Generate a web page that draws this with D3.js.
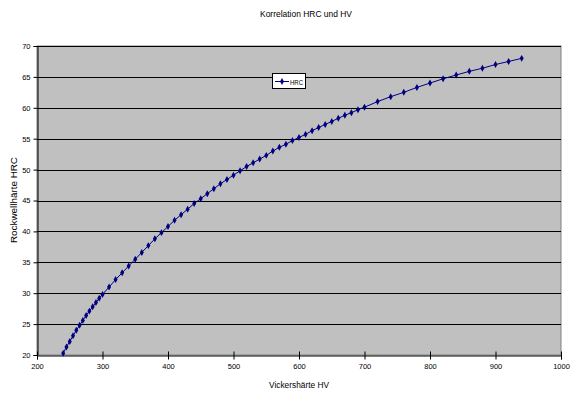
<!DOCTYPE html>
<html><head><meta charset="utf-8">
<script src="https://cdn.jsdelivr.net/npm/d3@7"></script>
<style>
body{margin:0;background:#fff;}
text{font-family:"Liberation Sans Narrow","Arial Narrow","Liberation Sans",Arial,sans-serif;fill:#000;}
</style></head>
<body><svg id="c" width="576" height="396"></svg>
<script>
const hv = [240,245,250,255,260,265,270,275,280,285,290,295,300,310,320,330,340,350,360,370,380,390,400,410,420,430,440,450,460,470,480,490,500,510,520,530,540,550,560,570,580,590,600,610,620,630,640,650,660,670,680,690,700,720,740,760,780,800,820,840,860,880,900,920,940];
const hrc = [20.3,21.3,22.2,23.1,24.0,24.8,25.6,26.4,27.1,27.8,28.5,29.2,29.8,31.0,32.2,33.3,34.4,35.5,36.6,37.7,38.8,39.8,40.8,41.8,42.7,43.6,44.5,45.3,46.1,46.9,47.7,48.4,49.1,49.8,50.5,51.1,51.7,52.3,53.0,53.6,54.1,54.7,55.2,55.7,56.3,56.8,57.3,57.8,58.3,58.8,59.2,59.7,60.1,61.0,61.8,62.5,63.3,64.0,64.7,65.3,65.9,66.4,67.0,67.5,68.0];
const xTicks = [200,300,400,500,600,700,800,900,1000];
const yTicks = [20,25,30,35,40,45,50,55,60,65,70];
const seriesName = "HRC";
const title = "Korrelation HRC und HV";
const xTitle = "Vickershärte HV";
const yTitle = "Rockwellhärte HRC";

const svg = d3.select("#c");
const L=37,R=561,T=46,B=355;
const x = d3.scaleLinear().domain([200,1000]).range([L,R]);
const y = d3.scaleLinear().domain([20,70]).range([B,T]);

svg.append("rect").attr("x",L).attr("y",T).attr("width",R-L).attr("height",B-T)
  .attr("fill","#c0c0c0").attr("stroke","#808080").attr("stroke-width",1);

svg.append("g").selectAll("line").data(yTicks.filter(d=>d>20)).join("line")
  .attr("x1",L).attr("x2",R).attr("y1",d=>Math.round(y(d))+0.5).attr("y2",d=>Math.round(y(d))+0.5)
  .attr("stroke","#000").attr("stroke-width",1);

const ya = svg.append("g").attr("transform",`translate(${L+0.5},0)`)
  .call(d3.axisLeft(y).tickValues(yTicks).tickSize(4).tickPadding(3).tickFormat(d3.format("d")));
const xa = svg.append("g").attr("transform",`translate(0,${B+0.5})`)
  .call(d3.axisBottom(x).tickValues(xTicks).tickSize(4).tickPadding(4).tickFormat(d3.format("d")));
[ya,xa].forEach(g=>{
  g.select(".domain").attr("stroke","#000");
  g.selectAll(".tick line").attr("stroke","#000");
  g.selectAll("text").attr("font-size","7.5px").attr("fill","#000")
   .attr("font-family",'"Liberation Sans Narrow","Arial Narrow","Liberation Sans",Arial,sans-serif');
});
ya.selectAll(".tick line").attr("x1",0).attr("x2",-4);
xa.selectAll(".tick line").attr("y1",-4).attr("y2",4);

const pts = hv.map((v,i)=>[v,hrc[i]]);
svg.append("path").datum(pts)
  .attr("d",d3.line().x(d=>x(d[0])).y(d=>y(d[1])))
  .attr("fill","none").attr("stroke","#000080").attr("stroke-width",1);
const diamond = d3.symbol().type(d3.symbolDiamond).size(14);
svg.append("g").selectAll("path").data(pts).join("path")
  .attr("transform",d=>`translate(${x(d[0])},${y(d[1])})`)
  .attr("d",diamond).attr("fill","#000080");

const lg = svg.append("g").attr("transform","translate(272,73)");
lg.append("rect").attr("x",0.5).attr("y",0.5).attr("width",33).attr("height",15)
  .attr("fill","#fff").attr("stroke","#000");
lg.append("line").attr("x1",3).attr("x2",17).attr("y1",8.5).attr("y2",8.5).attr("stroke","#000080");
lg.append("path").attr("transform","translate(10,8.5)").attr("d",diamond).attr("fill","#000080");
lg.append("text").attr("x",18).attr("y",11.5).attr("font-size","8px")
  .attr("textLength",13).attr("lengthAdjust","spacingAndGlyphs").text(seriesName);

svg.append("text").attr("x",306).attr("y",17).attr("text-anchor","middle").attr("font-size","9px")
  .attr("textLength",92).attr("lengthAdjust","spacingAndGlyphs").text(title);
svg.append("text").attr("x",299).attr("y",388).attr("text-anchor","middle").attr("font-size","8.5px")
  .attr("textLength",60).attr("lengthAdjust","spacingAndGlyphs").text(xTitle);
svg.append("text").attr("transform","translate(17,200) rotate(-90)").attr("text-anchor","middle").attr("font-size","8.5px")
  .attr("textLength",86).attr("lengthAdjust","spacingAndGlyphs").text(yTitle);
</script></body></html>
